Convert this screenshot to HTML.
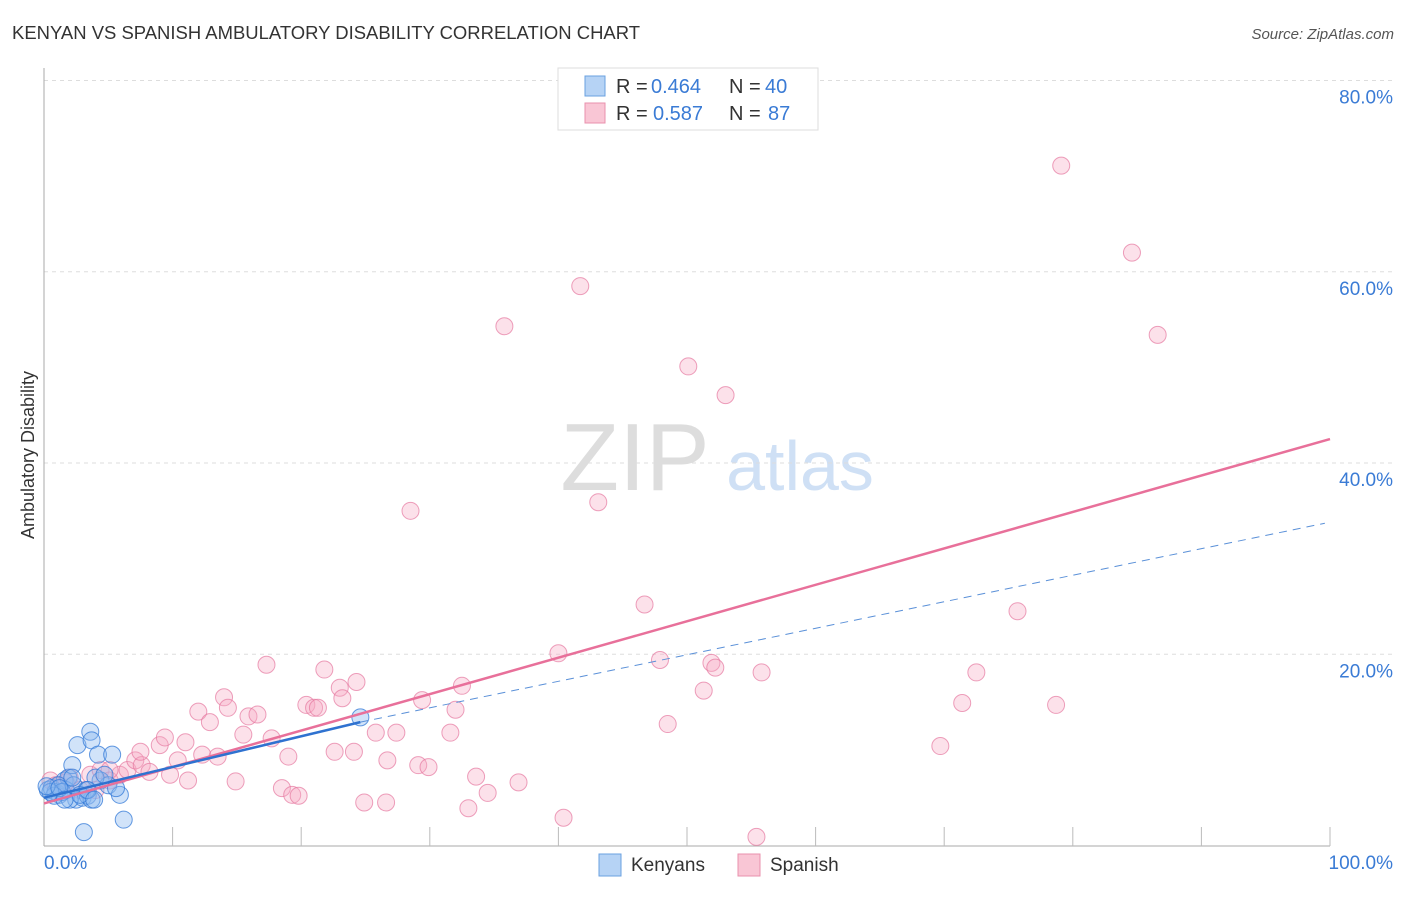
<!DOCTYPE html>
<html><head><meta charset="utf-8"><style>
body{margin:0;background:#fff;font-family:"Liberation Sans",sans-serif}
svg text{font-family:"Liberation Sans",sans-serif}
</style></head><body>
<svg id="chart" width="1406" height="892" viewBox="0 0 1406 892">
<text x="12" y="39" font-size="18.5" fill="#333" textLength="628" lengthAdjust="spacingAndGlyphs">KENYAN VS SPANISH AMBULATORY DISABILITY CORRELATION CHART</text>
<text x="1394" y="39" font-size="15" fill="#555" font-style="italic" text-anchor="end">Source: ZipAtlas.com</text>
<text x="635" y="490" font-size="96" fill="#ddd" font-family="Liberation Serif" text-anchor="middle">ZIP</text>
<text x="800" y="490" font-size="70" fill="#cfe0f5" text-anchor="middle">atlas</text>
<text transform="translate(34,455) rotate(-90)" font-size="18" fill="#333" text-anchor="middle">Ambulatory Disability</text>
<g id="grid"></g><g id="axes"></g><g id="pts"></g><g id="lines"></g>
<g>
<rect x="558" y="68" width="260" height="62" fill="#fff" stroke="#ddd"/>
<rect x="585" y="76" width="20" height="20" fill="#b6d3f5" stroke="#6aa0e0"/>
<rect x="585" y="103" width="20" height="20" fill="#f9c6d5" stroke="#e990ad"/>
<text x="616" y="93" font-size="20" fill="#333">R =</text>
<text x="651" y="93" font-size="20" fill="#3a7bd5">0.464</text>
<text x="729" y="93" font-size="20" fill="#333">N =</text>
<text x="765" y="93" font-size="20" fill="#3a7bd5">40</text>
<text x="616" y="120" font-size="20" fill="#333">R =</text>
<text x="653" y="120" font-size="20" fill="#3a7bd5">0.587</text>
<text x="729" y="120" font-size="20" fill="#333">N =</text>
<text x="768" y="120" font-size="20" fill="#3a7bd5">87</text>
</g>
<g>
<rect x="599" y="854" width="22" height="22" fill="#b6d3f5" stroke="#6aa0e0"/>
<text x="631" y="871" font-size="19" fill="#333">Kenyans</text>
<rect x="738" y="854" width="22" height="22" fill="#f9c6d5" stroke="#e990ad"/>
<text x="770" y="871" font-size="19" fill="#333">Spanish</text>
</g>
</svg>
<script>
const yTicks=[20,40,60,80];
const yTickLabels=["20.0%","40.0%","60.0%","80.0%"];
const xTickLabels=["0.0%","100.0%"];
const kenX=[0.3,0.6,0.9,1.2,1.6,1.9,2.2,2.6,3.1,3.6,3.7,4.2,4.4,5.3,5.0,5.9,6.2,2.5,3.0,3.4,3.7,2.0,1.7,1.1,1.4,0.8,0.5,2.3,3.3,4.0,4.7,5.6,24.6,2.8,0.2,1.2,1.6,2.2,3.4,3.9];
const kenY=[5.8,6.0,5.6,5.3,6.8,7.1,8.4,10.5,1.4,11.9,11.0,9.5,6.8,9.5,6.3,5.3,2.7,4.8,5.0,5.2,4.8,4.8,5.8,6.3,5.6,5.2,5.6,6.3,5.8,7.1,7.4,6.0,13.4,5.3,6.2,6.0,4.8,7.1,5.8,4.8];
const spaX=[0.5,1.2,2.0,2.8,3.6,4.4,5.1,5.9,6.5,7.1,7.6,8.2,9.0,9.4,9.8,10.4,11.0,11.2,12.0,12.3,12.9,13.5,14.0,14.3,14.9,15.5,15.9,16.6,17.3,17.7,18.5,19.0,19.3,19.8,20.4,21.0,21.3,21.8,22.6,23.0,23.2,24.1,24.3,24.9,25.8,26.6,26.7,27.4,28.5,29.1,29.4,29.9,31.6,32.0,32.5,33.0,33.6,34.5,35.8,36.9,40.0,40.4,41.7,43.1,46.7,47.9,48.5,50.1,51.3,51.9,52.2,53.0,55.4,55.8,69.7,71.4,72.5,75.7,78.7,79.1,84.6,86.6,5.1,7.5,4.0,1.7,0.9];
const spaY=[6.8,6.3,7.1,5.8,7.4,7.9,6.8,7.4,7.9,8.9,8.4,7.7,10.5,11.3,7.4,8.9,10.8,6.8,14.0,9.5,12.9,9.3,15.5,14.4,6.7,11.6,13.5,13.7,18.9,11.2,6.0,9.3,5.3,5.2,14.7,14.4,14.4,18.4,9.8,16.5,15.4,9.8,17.1,4.5,11.8,4.5,8.9,11.8,35.0,8.4,15.2,8.2,11.8,14.2,16.7,3.9,7.2,5.5,54.3,6.6,20.1,2.9,58.5,35.9,25.2,19.4,12.7,50.1,16.2,19.1,18.6,47.1,0.9,18.1,10.4,14.9,18.1,24.5,14.7,71.1,62.0,53.4,7.9,9.8,5.8,6.6,6.3];
const spaTrend=[4.4,42.5];
const kenTrend=[5.0,12.9];
const kenDash=[12.9,33.7];
const NS="http://www.w3.org/2000/svg";
const X=v=>44+v*12.86, Y=v=>845.5-v*9.5625;
function mk(t,a,p){const e=document.createElementNS(NS,t);for(const k in a)e.setAttribute(k,a[k]);document.getElementById(p).appendChild(e);return e;}
yTicks.forEach((t,i)=>{
 const l=mk('line',{x1:44,x2:1394,y1:Y(t),y2:Y(t),stroke:'#ddd','stroke-dasharray':'4,4'},'grid');
 
 
 const tx=mk('text',{x:1393,y:Y(t)+23,'font-size':19,fill:'#3a7bd5','text-anchor':'end'},'grid');tx.textContent=yTickLabels[i];
 
 
});
mk('line',{x1:44,x2:44,y1:68,y2:846,stroke:'#aaa'},'axes');
mk('line',{x1:44,x2:1330,y1:846,y2:846,stroke:'#aaa'},'axes');
for(let i=1;i<=10;i++){const l=mk('line',{x1:X(i*10),x2:X(i*10),y1:827,y2:846,stroke:'#bbb'},'axes');
 
 }
const xl0=mk('text',{x:44,y:869,'font-size':19,fill:'#3a7bd5'},'axes');xl0.textContent=xTickLabels[0];


const xl1=mk('text',{x:1393,y:869,'font-size':19,fill:'#3a7bd5','text-anchor':'end'},'axes');xl1.textContent=xTickLabels[1];


spaX.forEach((v,i)=>{const c=mk('circle',{cx:X(v),cy:Y(spaY[i]),r:8.5,fill:'rgba(246,170,195,0.35)',stroke:'rgba(230,120,160,0.7)','stroke-width':1},'pts');
 
 });
kenX.forEach((v,i)=>{const c=mk('circle',{cx:X(v),cy:Y(kenY[i]),r:8.5,fill:'rgba(140,185,240,0.4)',stroke:'rgba(50,120,215,0.75)','stroke-width':1},'pts');
 
 });
const s=mk('line',{x1:X(0),y1:Y(spaTrend[0]),x2:X(100),y2:Y(spaTrend[1]),stroke:'#e8709a','stroke-width':2.5},'lines');


const k=mk('line',{x1:X(0),y1:Y(kenTrend[0]),x2:X(24.6),y2:Y(kenTrend[1]),stroke:'#2f72d0','stroke-width':2.5},'lines');


const d=mk('line',{x1:X(24.6),y1:Y(kenDash[0]),x2:X(99.6),y2:Y(kenDash[1]),stroke:'#5a90d8','stroke-width':1,'stroke-dasharray':'8,6'},'lines');


</script>
</body></html>
